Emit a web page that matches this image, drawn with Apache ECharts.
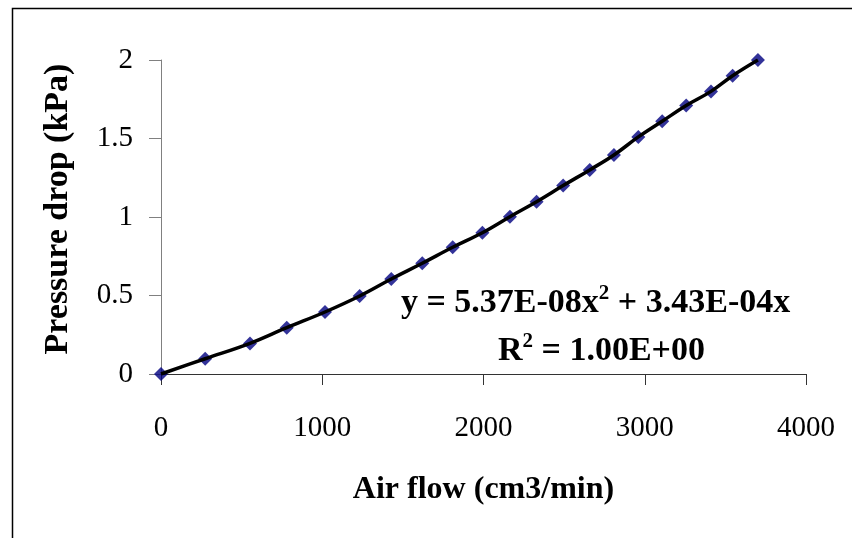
<!DOCTYPE html>
<html>
<head>
<meta charset="utf-8">
<script src="https://cdn.jsdelivr.net/npm/echarts@6/dist/echarts.min.js"></script>
<style>
html,body{margin:0;padding:0;background:#fff;}
#chart{width:852px;height:538px;}
</style>
</head>
<body>
<div id="chart"></div>
<script>
// Data
var airFlow = [0, 274, 552, 780, 1017, 1232, 1428, 1620, 1809, 1993, 2164, 2329, 2494, 2659, 2809, 2960, 3108, 3257, 3411, 3545, 3702];
var pressureDrop = [0, 0.097, 0.195, 0.295, 0.395, 0.497, 0.605, 0.705, 0.807, 0.90, 1.002, 1.097, 1.20, 1.30, 1.395, 1.51, 1.61, 1.71, 1.80, 1.90, 2.00];
var xTitle = 'Air flow (cm3/min)';
var yTitle = 'Pressure drop (kPa)';
var eqLine1 = ['y = 5.37E-08x', '2', ' + 3.43E-04x'];
var eqLine2 = ['R', '2', ' = 1.00E+00'];

var FONT = "'Liberation Serif', 'Times New Roman', serif";
var points = airFlow.map(function (x, i) { return [x, pressureDrop[i]]; });

var richEq = {
  b: {fontFamily: FONT, fontSize: 34, fontWeight: 'bold', fill: '#000', lineHeight: 40, verticalAlign: 'middle'},
  s: {fontFamily: FONT, fontSize: 21, fontWeight: 'bold', fill: '#000', lineHeight: 28, verticalAlign: 'top'}
};

var chart = echarts.init(document.getElementById('chart'), null, {renderer: 'canvas'});
chart.setOption({
  animation: false,
  backgroundColor: '#ffffff',
  grid: {left: 161, top: 60, width: 645, height: 314, containLabel: false},
  xAxis: {
    type: 'value', min: 0, max: 4000, interval: 1000,
    name: xTitle, nameLocation: 'middle', nameGap: 100,
    nameTextStyle: {fontFamily: FONT, fontSize: 32, fontWeight: 'bold', color: '#000'},
    axisLine: {show: true, lineStyle: {color: '#333', width: 1}},
    axisTick: {show: true, inside: false, length: 11, lineStyle: {color: '#333'}},
    axisLabel: {margin: 40, fontFamily: FONT, fontSize: 29, color: '#000',
      formatter: function (v) { return String(v); }},
    splitLine: {show: false}
  },
  yAxis: {
    type: 'value', min: 0, max: 2, interval: 0.5,
    name: yTitle, nameLocation: 'middle', nameGap: 86, nameRotate: 90,
    nameTextStyle: {fontFamily: FONT, fontSize: 34, fontWeight: 'bold', color: '#000', padding: [0, 0, 0, 16]},
    axisLine: {show: true, lineStyle: {color: '#808080', width: 1}},
    axisTick: {show: true, inside: false, length: 12, lineStyle: {color: '#808080'}},
    axisLabel: {margin: 28, fontFamily: FONT, fontSize: 29, color: '#000'},
    splitLine: {show: false}
  },
  series: [
    {
      type: 'scatter', data: points, symbol: 'diamond', symbolSize: 14,
      itemStyle: {color: '#000080'}, z: 2
    },
    {
      type: 'line', data: points, showSymbol: false, symbol: 'none', smooth: 0.4,
      lineStyle: {color: '#000000', width: 3.5}, z: 3
    }
  ],
  graphic: [
    {
      type: 'rect', left: 10, top: 6, silent: true,
      shape: {x: 0, y: 0, width: 900, height: 600},
      style: {fill: 'none', stroke: '#000', lineWidth: 1.5}
    },
    {
      type: 'text', left: 401, top: 283, silent: true,
      style: {
        text: '{b|' + eqLine1[0] + '}{s|' + eqLine1[1] + '}{b|' + eqLine1[2] + '}',
        rich: richEq
      }
    },
    {
      type: 'text', left: 498, top: 331, silent: true,
      style: {
        text: '{b|' + eqLine2[0] + '}{s|' + eqLine2[1] + '}{b|' + eqLine2[2] + '}',
        rich: richEq
      }
    }
  ]
});
</script>
</body>
</html>
